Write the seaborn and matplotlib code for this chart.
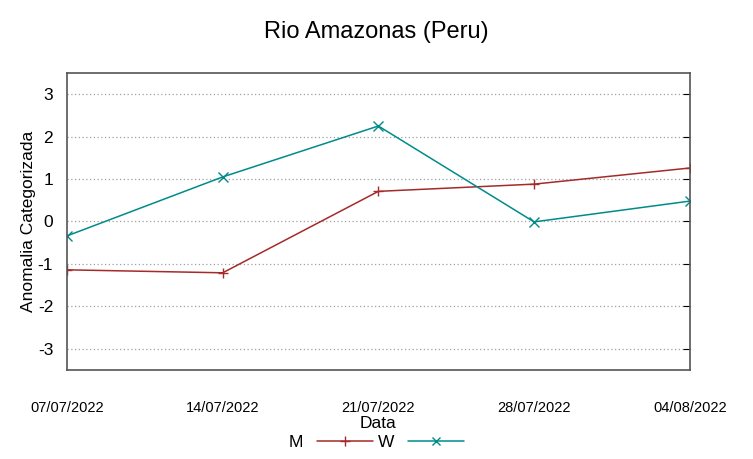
import pandas as pd
import matplotlib.pyplot as plt
import seaborn as sns

# Data
dates = ['07/07/2022', '14/07/2022', '21/07/2022', '28/07/2022', '04/08/2022']
m_values = [-1.14, -1.21, 0.71, 0.88, 1.26]
w_values = [-0.34, 1.05, 2.25, -0.01, 0.48]

df = pd.DataFrame({
    'Data': pd.to_datetime(dates * 2, format='%d/%m/%Y'),
    'Valor': m_values + w_values,
    'Serie': ['M'] * len(dates) + ['W'] * len(dates),
})

sns.set_style('white')
plt.rcParams['font.family'] = ['Liberation Sans', 'DejaVu Sans']
plt.rcParams['axes.unicode_minus'] = False
plt.rcParams['text.color'] = 'black'
plt.rcParams['axes.labelcolor'] = 'black'
plt.rcParams['xtick.color'] = 'black'
plt.rcParams['ytick.color'] = 'black'

fig = plt.figure(figsize=(7.53, 4.59), dpi=100)
ax = fig.add_axes([0.089, 0.194, 0.827, 0.647])

sns.lineplot(data=df, x='Data', y='Valor', hue='Serie', style='Serie',
             palette={'M': '#a52a2a', 'W': '#008b8b'},
             markers={'M': '+', 'W': 'x'}, dashes=False,
             markersize=6.5, linewidth=1.1, ax=ax, legend=False)
# make the +/x markers take the line colour
for ln in ax.lines:
    ln.set_markeredgecolor(ln.get_color())
    ln.set_markeredgewidth(1.0)

ax.set_ylim(-3.5, 3.5)
ax.set_xlim(df['Data'].min(), df['Data'].max())
ax.set_yticks([-3, -2, -1, 0, 1, 2, 3])
ax.set_xticks(pd.to_datetime(dates, format='%d/%m/%Y'))
ax.set_xticklabels(dates, fontsize=10.5)
ax.tick_params(axis='y', labelsize=12.5, direction='in', length=5, right=True, pad=10)
ax.tick_params(axis='x', direction='in', length=0, pad=22)
ax.yaxis.grid(True, linestyle=(0, (1, 2)), color='#a0a0a0', linewidth=0.9)
for s in ax.spines.values():
    s.set_color('#555555')
    s.set_linewidth(1.2)

ax.set_xlabel('Data', fontsize=12.5, labelpad=1)
ax.set_ylabel('Anomalia Categorizada', fontsize=12.5, labelpad=1)
fig.suptitle('Rio Amazonas (Peru)', fontsize=17, y=0.955)

handles = [plt.Line2D([], [], color='#a52a2a', marker='+', markersize=6.5, linewidth=1.1),
           plt.Line2D([], [], color='#008b8b', marker='x', markersize=5.5, linewidth=1.1)]
fig.legend(handles, ['M', 'W'], loc='center', bbox_to_anchor=(0.5, 0.037), ncol=2,
           frameon=False, markerfirst=False, fontsize=12.5, handlelength=3.2,
           handletextpad=0.8, columnspacing=0.3, numpoints=1)

fig.savefig('out.png', dpi=100)
